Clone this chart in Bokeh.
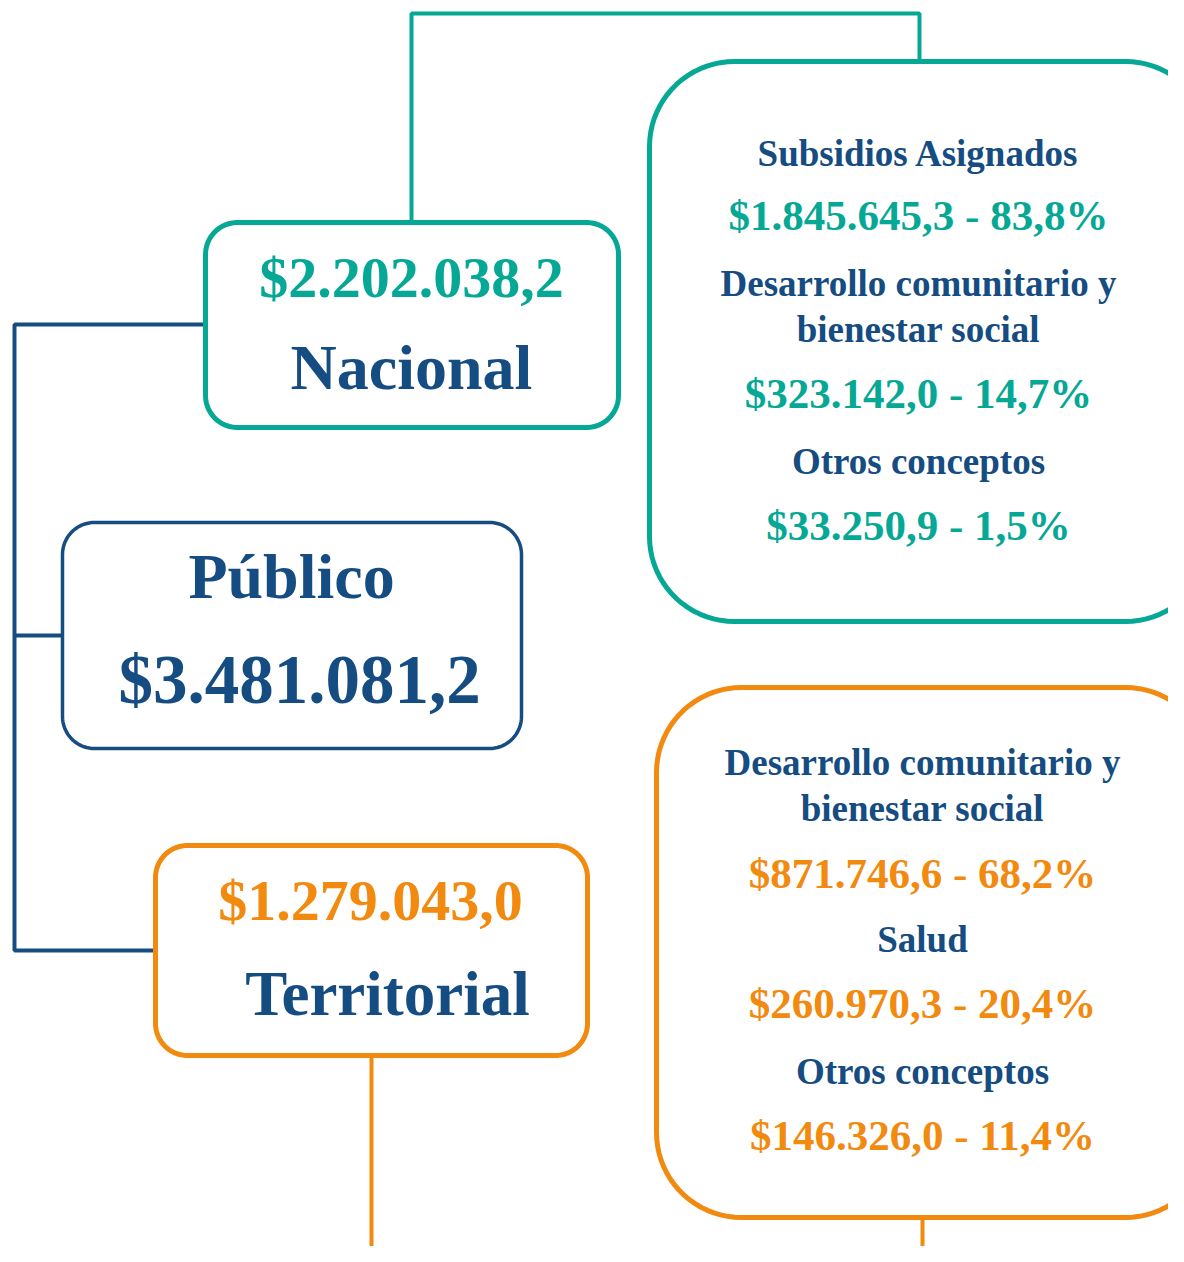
import numpy as np
from bokeh.plotting import figure
from bokeh.models import Range1d, ColumnDataSource
from bokeh.core.properties import value
from bokeh.embed import file_html
from bokeh.resources import INLINE

# ---- data ----
publico_total = 3481081.2
nacional_total = 2202038.2
territorial_total = 1279043.0

nacional_labels = ["Subsidios Asignados", "Desarrollo comunitario y\nbienestar social", "Otros conceptos"]
nacional_values = [1845645.3, 323142.0, 33250.9]
nacional_pcts = [83.8, 14.7, 1.5]

territorial_labels = ["Desarrollo comunitario y\nbienestar social", "Salud", "Otros conceptos"]
territorial_values = [871746.6, 260970.3, 146326.0]
territorial_pcts = [68.2, 20.4, 11.4]

TEAL = "#05A795"
NAVY = "#154C81"
ORANGE = "#F18A0E"
FONT = value("Liberation Serif")


def money(v):
    s = f"{v:,.1f}"
    return "$" + s.replace(",", "X").replace(".", ",").replace("X", ".")


def pct(v):
    return f"{v:.1f}".replace(".", ",") + "%"


def rrect(x0, y0, x1, y1, r, n=20):
    xs, ys = [], []
    corners = [(x1 - r, y0 + r, -np.pi / 2, 0), (x1 - r, y1 - r, 0, np.pi / 2),
               (x0 + r, y1 - r, np.pi / 2, np.pi), (x0 + r, y0 + r, np.pi, 1.5 * np.pi)]
    for cx, cy, a0, a1 in corners:
        t = np.linspace(a0, a1, n)
        xs.extend(cx + r * np.cos(t))
        ys.extend(cy + r * np.sin(t))
    return xs, ys


W, H = 1168, 1246
p = figure(width=W, height=H, x_range=Range1d(0, W), y_range=Range1d(H, 0),
           output_backend="svg", toolbar_location=None, min_border=0,
           x_axis_location=None, y_axis_location=None, outline_line_color=None)
p.xgrid.visible = False
p.ygrid.visible = False
p.background_fill_color = "white"
p.border_fill_color = "white"

# ---- connectors ----
p.line([411, 411, 919, 919], [222, 13, 13, 62], line_color=TEAL, line_width=4)
p.line([205, 14, 14, 155], [324, 324, 950, 950], line_color=NAVY, line_width=4)
p.line([14, 62], [635, 635], line_color=NAVY, line_width=4)
p.line([371, 371], [1055, 1262], line_color=ORANGE, line_width=4)
p.line([922, 922], [1218, 1262], line_color=ORANGE, line_width=4)

# ---- boxes ----
boxes = [
    (205, 222, 618, 427, 32, TEAL, 5),
    (62, 522, 521, 748, 32, NAVY, 3.5),
    (155, 845, 587, 1055, 32, ORANGE, 5),
    (649, 61, 1210, 621, 85, TEAL, 5),
    (656, 687, 1210, 1217, 85, ORANGE, 5),
]
for x0, y0, x1, y1, r, c, lw in boxes:
    xs, ys = rrect(x0, y0, x1, y1, r)
    p.patch(xs, ys, fill_color="white", line_color=c, line_width=lw)

# ---- texts ----
tx, ty, tt, tc, ts = [], [], [], [], []


def add(x, y, t, c, s):
    # y is the wanted baseline; compensate for renderer baseline offset
    tx.append(x); ty.append(y - 0.34 * s); tt.append(t); tc.append(c); ts.append(f"{s}px")


add(411, 297, money(nacional_total), TEAL, 58)
add(411, 389, "Nacional", NAVY, 64)
add(291, 598, "Público", NAVY, 64)
add(299, 703, money(publico_total), NAVY, 69)
add(370, 920, money(territorial_total), ORANGE, 58)
add(387, 1015, "Territorial", NAVY, 63)


def panel(cx, ys_lab, ys_val, labels, vals, pcts, vcolor):
    for ylab, yval, lab, v, pc in zip(ys_lab, ys_val, labels, vals, pcts):
        for k, line in enumerate(lab.split("\n")):
            add(cx, ylab + 46 * k, line, NAVY, 37)
        add(cx, yval, f"{money(v)} - {pct(pc)}", vcolor, 43)


panel(918, [166, 296, 474], [230, 408, 540], nacional_labels, nacional_values, nacional_pcts, TEAL)
panel(922, [775, 952, 1084], [888, 1018, 1150], territorial_labels, territorial_values, territorial_pcts, ORANGE)

src = ColumnDataSource(dict(x=tx, y=ty, text=tt, color=tc, size=ts))
p.text(x="x", y="y", text="text", source=src, text_color="color", text_font_size="size",
       text_font=FONT, text_font_style="bold", text_align="center", text_baseline="alphabetic")

open("out.html", "w").write(file_html(p, INLINE))
